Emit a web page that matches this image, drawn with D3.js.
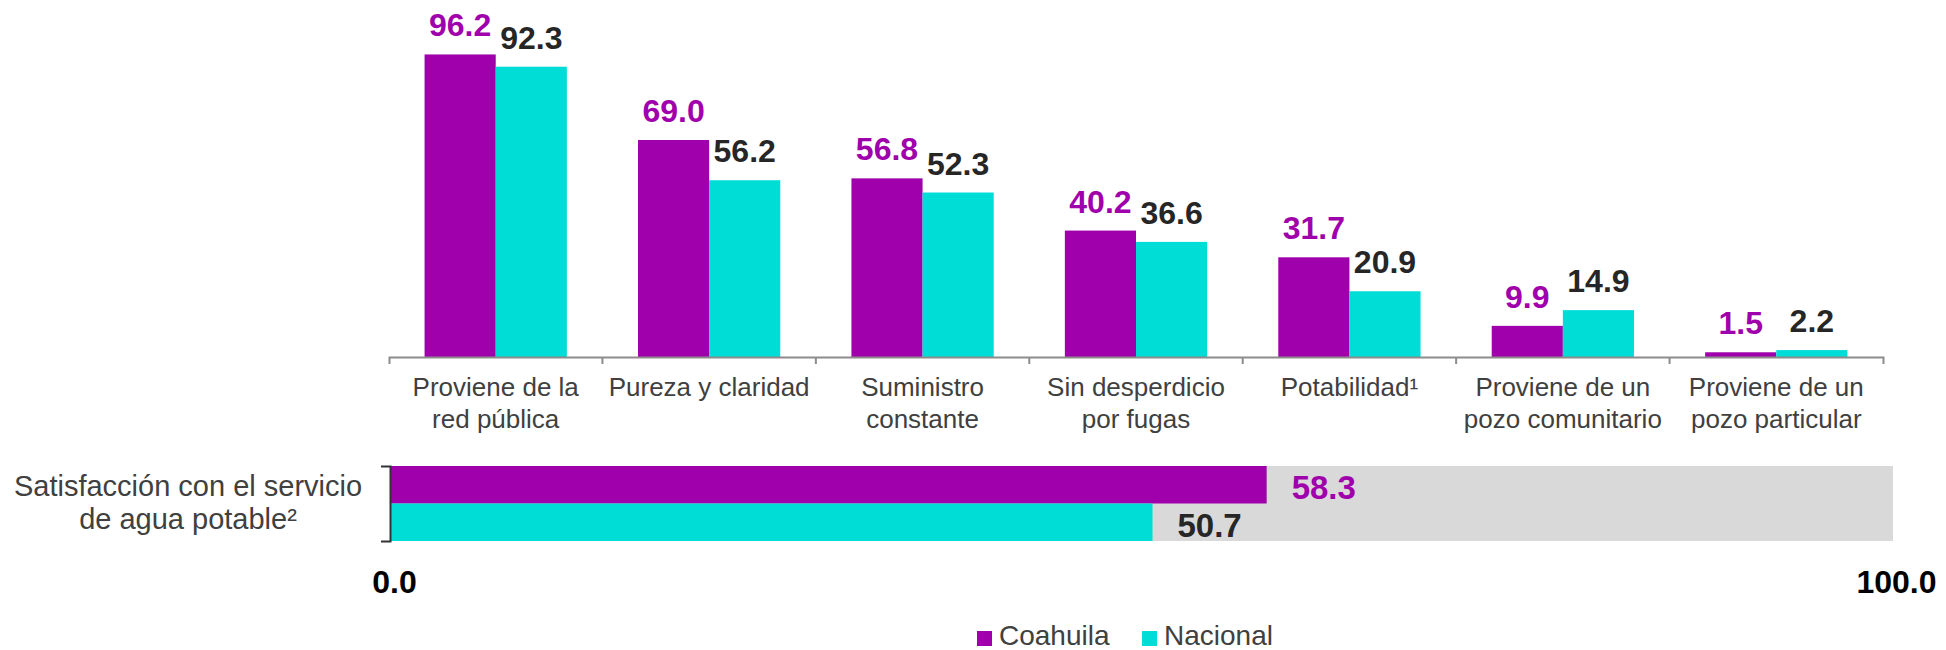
<!DOCTYPE html>
<html>
<head>
<meta charset="utf-8">
<script src="https://cdn.jsdelivr.net/npm/d3@7"></script>
<style>
  body { margin: 0; background: #fff; }
  text { font-family: "Liberation Sans", Arial, sans-serif; }
</style>
</head>
<body>
<script>
// Data
var categories = [
  "Proviene de la red pública",
  "Pureza y claridad",
  "Suministro constante",
  "Sin desperdicio por fugas",
  "Potabilidad¹",
  "Proviene de un pozo comunitario",
  "Proviene de un pozo particular"
];
var categoryLines = [
  ["Proviene de la", "red pública"],
  ["Pureza y claridad"],
  ["Suministro", "constante"],
  ["Sin desperdicio", "por fugas"],
  ["Potabilidad¹"],
  ["Proviene de un", "pozo comunitario"],
  ["Proviene de un", "pozo particular"]
];
var series = ["Coahuila", "Nacional"];
var coahuila = [96.2, 69.0, 56.8, 40.2, 31.7, 9.9, 1.5];
var nacional = [92.3, 56.2, 52.3, 36.6, 20.9, 14.9, 2.2];
var satLabel = ["Satisfacción con el servicio", "de agua potable²"];
var satValues = [58.3, 50.7];
var satTicks = [0, 100];

var colors = { Coahuila: "#A000AB", Nacional: "#00DCD6" };
var labelColors = { Coahuila: "#A000AB", Nacional: "#262626" };

var width = 1946,
  height = 650;

var svg = d3.select('body')
  .append('svg')
  .attr('width', width)
  .attr('height', height);

// ---------- top chart: grouped bars ----------
var x0 = d3.scaleBand()
  .domain(categories)
  .range([389, 1883])
  .padding(0);

var x1 = d3.scaleBand()
  .domain(series)
  .range([0, x0.bandwidth()])
  .paddingInner(0)
  .paddingOuter(0.5);

var yScale = d3.scaleLinear()
  .domain([0, 100])
  .range([357, 42.5]);

var rows = categories.map(function(c, i) {
  return { cat: c, lines: categoryLines[i], Coahuila: coahuila[i], Nacional: nacional[i] };
});

var groups = svg.selectAll('.grp')
  .data(rows)
  .enter()
  .append('g')
  .attr('class', 'grp')
  .attr('transform', function(d) { return 'translate(' + x0(d.cat) + ',0)'; });

groups.selectAll('rect')
  .data(function(d) { return series.map(function(s) { return { s: s, v: d[s] }; }); })
  .enter()
  .append('rect')
  .attr('x', function(d) { return x1(d.s); })
  .attr('y', function(d) { return yScale(d.v); })
  .attr('width', x1.bandwidth())
  .attr('height', function(d) { return yScale(0) - yScale(d.v); })
  .attr('fill', function(d) { return colors[d.s]; });

groups.selectAll('.val')
  .data(function(d) { return series.map(function(s) { return { s: s, v: d[s] }; }); })
  .enter()
  .append('text')
  .attr('class', 'val')
  .attr('x', function(d) { return x1(d.s) + x1.bandwidth() / 2; })
  .attr('y', function(d) { return yScale(d.v) - 18; })
  .attr('text-anchor', 'middle')
  .style('font-size', '32px')
  .style('font-weight', 'bold')
  .style('fill', function(d) { return labelColors[d.s]; })
  .text(function(d) { return d.v.toFixed(1); });

// x axis (outer ticks from domain path, inner ticks at band edges)
var xAxis = svg.append('g')
  .attr('transform', 'translate(0,' + yScale(0) + ')')
  .call(d3.axisBottom(x0).tickSizeInner(0).tickSizeOuter(7).tickFormat(''));
xAxis.select('.domain').attr('stroke', '#8c8c8c').attr('stroke-width', 2);

xAxis.selectAll('.edge')
  .data(categories.slice(1))
  .enter()
  .append('line')
  .attr('class', 'edge')
  .attr('x1', function(d) { return x0(d); })
  .attr('x2', function(d) { return x0(d); })
  .attr('y1', 0)
  .attr('y2', 7)
  .attr('stroke', '#8c8c8c')
  .attr('stroke-width', 2);

// category labels
var catText = svg.selectAll('.cat')
  .data(rows)
  .enter()
  .append('text')
  .attr('class', 'cat')
  .attr('text-anchor', 'middle')
  .style('font-size', '26px')
  .style('fill', '#404040');

catText.selectAll('tspan')
  .data(function(d) { return d.lines.map(function(l) { return { l: l, c: d.cat }; }); })
  .enter()
  .append('tspan')
  .attr('x', function(d) { return x0(d.c) + x0.bandwidth() / 2; })
  .attr('y', function(d, i) { return 396 + i * 32; })
  .text(function(d) { return d.l; });

// ---------- bottom chart: satisfaction ----------
var xs = d3.scaleLinear()
  .domain([0, 100])
  .range([391, 1893]);

var yb = d3.scaleBand()
  .domain(series)
  .range([466, 541]);

svg.append('rect')
  .attr('x', xs(0))
  .attr('y', yb.range()[0])
  .attr('width', xs(100) - xs(0))
  .attr('height', yb.range()[1] - yb.range()[0])
  .attr('fill', '#D9D9D9');

var satData = series.map(function(s, i) { return { s: s, v: satValues[i] }; });

svg.selectAll('.satbar')
  .data(satData)
  .enter()
  .append('rect')
  .attr('class', 'satbar')
  .attr('x', xs(0))
  .attr('y', function(d) { return yb(d.s); })
  .attr('width', function(d) { return xs(d.v) - xs(0); })
  .attr('height', yb.bandwidth())
  .attr('fill', function(d) { return colors[d.s]; });

svg.selectAll('.satval')
  .data(satData)
  .enter()
  .append('text')
  .attr('class', 'satval')
  .attr('x', function(d) { return xs(d.v) + 25; })
  .attr('y', function(d) { return yb(d.s) + yb.bandwidth() / 2 + 14.5; })
  .style('font-size', '33px')
  .style('font-weight', 'bold')
  .style('fill', function(d) { return labelColors[d.s]; })
  .text(function(d) { return d.v.toFixed(1); });

// bracket axis on the left
var satScale = d3.scaleBand().domain([satLabel.join(' ')]).range([466, 541]);
var yAxisB = svg.append('g')
  .attr('transform', 'translate(' + (xs(0) - 1) + ',0)')
  .call(d3.axisLeft(satScale).tickSizeInner(0).tickSizeOuter(9).tickFormat(''));
yAxisB.select('.domain').attr('stroke', '#333').attr('stroke-width', 2);

var satText = svg.append('text')
  .attr('text-anchor', 'middle')
  .style('font-size', '29px')
  .style('fill', '#404040');
satText.selectAll('tspan')
  .data(satLabel)
  .enter()
  .append('tspan')
  .attr('x', 188)
  .attr('y', function(d, i) { return 496 + i * 33; })
  .text(function(d) { return d; });

// 0 / 100 tick labels
var xAxisB = svg.append('g')
  .attr('transform', 'translate(0,593)')
  .call(d3.axisBottom(xs).tickValues(satTicks).tickSize(0).tickFormat(d3.format('.1f')));
xAxisB.select('.domain').remove();
xAxisB.selectAll('text')
  .attr('dy', 0)
  .attr('y', 0)
  .attr('dx', 3)
  .style('font-family', '"Liberation Sans", Arial, sans-serif')
  .style('font-size', '32px')
  .style('font-weight', 'bold')
  .style('fill', '#000');

// Handmade legend
var legend = svg.selectAll('.leg')
  .data(series)
  .enter()
  .append('g')
  .attr('class', 'leg')
  .attr('transform', function(d, i) { return 'translate(' + (977 + i * 165) + ',631)'; });
legend.append('rect')
  .attr('width', 15)
  .attr('height', 15)
  .style('fill', function(d) { return colors[d]; });
legend.append('text')
  .attr('x', 22)
  .attr('y', 14)
  .style('font-size', '28px')
  .style('fill', '#404040')
  .text(function(d) { return d; });
</script>
</body>
</html>
